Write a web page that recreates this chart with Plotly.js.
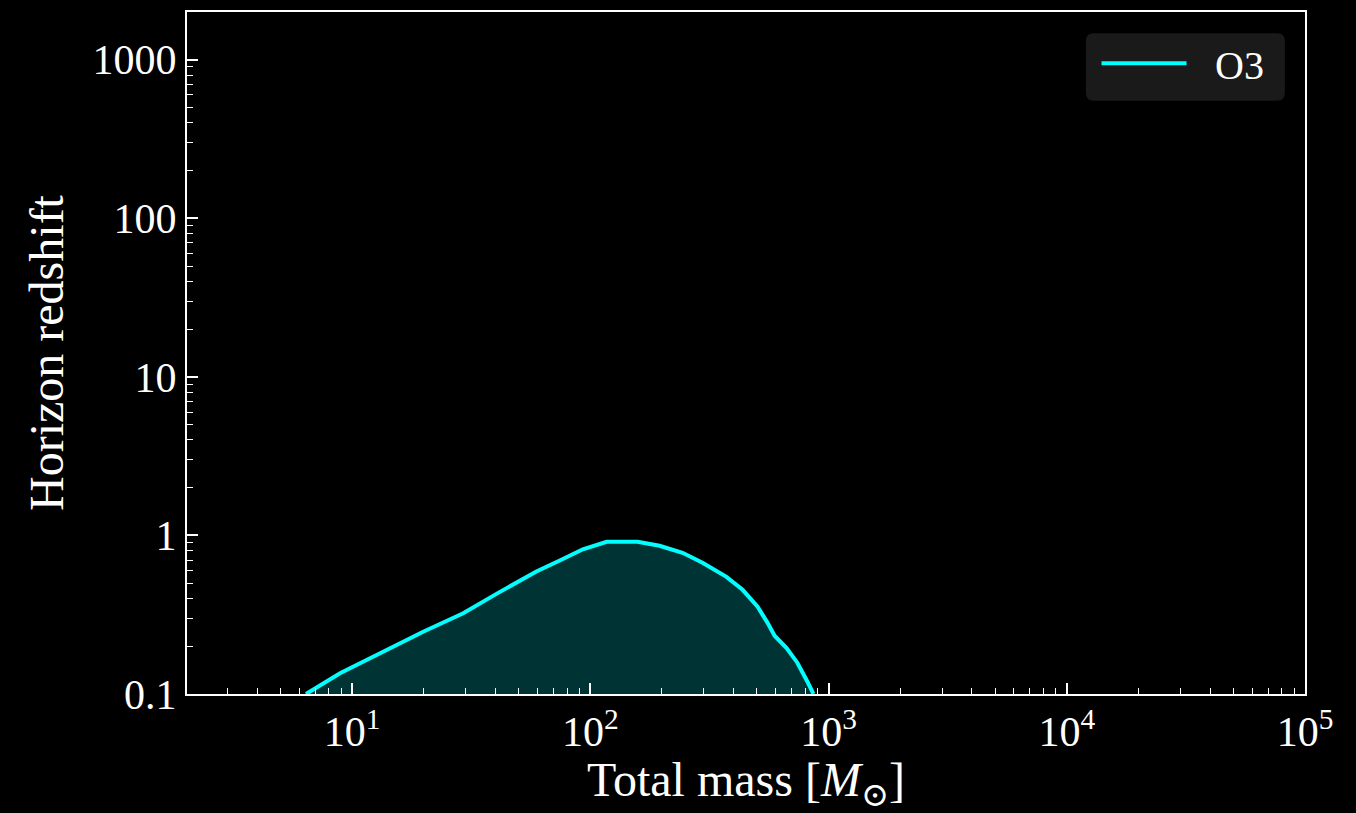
<!DOCTYPE html>
<html><head><meta charset="utf-8">
<script src="https://cdn.plot.ly/plotly-3.0.1.min.js"></script>
<style>html,body{margin:0;padding:0;background:#000;}#chart{width:1356px;height:813px;}</style>
</head><body><div id="chart"></div>
<script>
const totalMass = [6.41, 8.91, 19.9, 29.3, 40.4, 59.4, 74.5, 93.1, 117.3, 158, 195.5, 244, 296, 373, 436, 504, 555, 594, 667, 741, 817, 865];
const horizonZ  = [0.1, 0.135, 0.247, 0.323, 0.428, 0.592, 0.695, 0.818, 0.912, 0.912, 0.861, 0.777, 0.672, 0.548, 0.454, 0.355, 0.281, 0.233, 0.195, 0.157, 0.119, 0.1];
const seriesName = 'O3';
const xTickVals = [10, 100, 1000, 10000, 100000];
const xTickText = ['10<sup>1</sup>', '10<sup>2</sup>', '10<sup>3</sup>', '10<sup>4</sup>', '10<sup>5</sup>'];
const yTickVals = [0.1, 1, 10, 100, 1000];
const yTickText = ['0.1', '1', '10', '100', '1000'];

const font = 'Liberation Serif, DejaVu Serif, serif';
const lineColor = '#00ffff';
const trace = {
  x: totalMass, y: horizonZ, type: 'scatter', mode: 'lines', name: seriesName,
  line: {color: lineColor, width: 4},
  fill: 'tozeroy', fillcolor: 'rgba(0,255,255,0.2)', showlegend: false
};
const axisCommon = {
  type: 'log', showgrid: false, zeroline: false,
  showline: true, linecolor: '#ffffff', linewidth: 2, mirror: true,
  ticks: 'inside', ticklen: 11, tickwidth: 1.5, tickcolor: '#ffffff',
  tickmode: 'array',
  minor: {ticks: 'inside', ticklen: 6, tickwidth: 1.2, tickcolor: '#ffffff', dtick: 'D1', showgrid: false},
  tickfont: {family: font, size: 42, color: '#ffffff'}
};
// custom legend (paper coords)
const bx0 = 0.804, bx1 = 0.982, by0 = 0.870, by1 = 0.969, rx = 0.007, ry = 0.0117;
const boxPath = `M ${bx0+rx},${by0} L ${bx1-rx},${by0} Q ${bx1},${by0} ${bx1},${by0+ry} L ${bx1},${by1-ry} Q ${bx1},${by1} ${bx1-rx},${by1} L ${bx0+rx},${by1} Q ${bx0},${by1} ${bx0},${by1-ry} L ${bx0},${by0+ry} Q ${bx0},${by0} ${bx0+rx},${by0} Z`;
const layout = {
  width: 1356, height: 813,
  paper_bgcolor: '#000000', plot_bgcolor: '#000000',
  margin: {l: 187, r: 51, t: 12, b: 119},
  showlegend: false,
  shapes: [
    {type: 'path', xref: 'paper', yref: 'paper', path: boxPath, fillcolor: '#1a1a1a', line: {width: 0}},
    {type: 'line', xref: 'paper', yref: 'paper', x0: 0.818, x1: 0.894, y0: 0.925, y1: 0.925, line: {color: lineColor, width: 4}}
  ],
  annotations: [
    {xref: 'paper', yref: 'paper', x: 0.918, y: 0.922, xanchor: 'left', yanchor: 'middle', text: seriesName, showarrow: false,
     font: {family: font, size: 40, color: '#ffffff'}}
  ],
  xaxis: Object.assign({}, axisCommon, {
    range: [Math.log10(2.03), 5], tickvals: xTickVals, ticktext: xTickText,
    title: {text: 'Total mass [<i>M</i><sub>⊙</sub>]', font: {family: font, size: 48, color: '#ffffff'}, standoff: 8}
  }),
  yaxis: Object.assign({}, axisCommon, {
    range: [-1, Math.log10(2000)], tickvals: yTickVals, ticktext: yTickText,
    title: {text: 'Horizon redshift', font: {family: font, size: 48, color: '#ffffff'}, standoff: 14}
  })
};
Plotly.newPlot('chart', [trace], layout, {displayModeBar: false});
</script></body></html>
